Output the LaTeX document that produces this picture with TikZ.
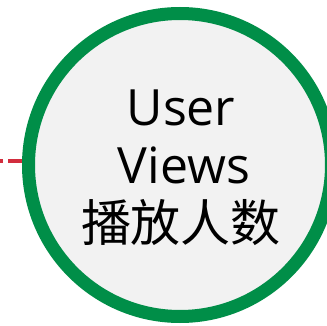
\documentclass[tikz,border=0pt]{standalone}
\usepackage{fontspec}
\setmainfont{Open Sans}
\newfontfamily\cjk{Noto Sans CJK SC}
\definecolor{ringgreen}{RGB}{0,142,72}
\definecolor{ringfill}{RGB}{242,242,242}
\definecolor{linkred}{RGB}{210,45,62}
\begin{document}
\begin{tikzpicture}[x=1pt,y=1pt,
  ring/.style={circle,draw=ringgreen,fill=ringfill,line width=13pt,minimum size=303pt,inner sep=0pt},
  label/.style={anchor=base,inner sep=0pt,font=\fontsize{50}{58}\selectfont},
  link/.style={draw=linkred,line width=4.5pt,dash pattern=on 14pt off 5pt}]
\useasboundingbox (0,0) rectangle (327,325);
\clip (0,0) rectangle (327,325);
\node[ring] (c) at (180,160) {};
\coordinate (loose) at (0,164);
\draw[link] (c.west |- loose) -- (loose);
\node[label] (t1) at (181,200) {User};
\node[label] (t2) at (184,142) {Views};
\node[label] (t3) at (181,84) {\cjk 播放人数};
\end{tikzpicture}
\end{document}
